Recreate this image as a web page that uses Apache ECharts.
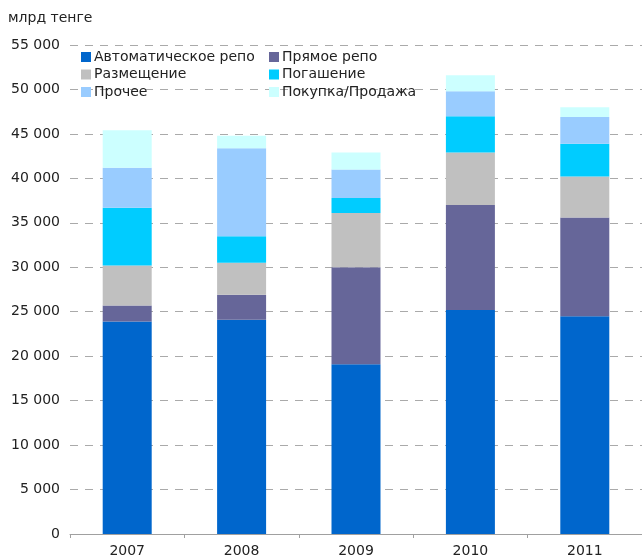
<!DOCTYPE html>
<html><head><meta charset="utf-8">
<script src="https://cdn.jsdelivr.net/npm/echarts@6/dist/echarts.min.js"></script>
<style>html,body{margin:0;padding:0;background:#fff}#c{width:642px;height:560px}</style>
</head><body><div id="c"></div>
<script>
const categories = ['2007','2008','2009','2010','2011'];
const seriesNames = ['Автоматическое репо','Прямое репо','Размещение','Погашение','Прочее','Покупка/Продажа'];
const avtoRepo   = [23900, 24100, 19100, 25200, 24500];
const pryamoeRepo= [1800, 2800, 10900, 11800, 11100];
const razmeschenie=[4500, 3600, 6100, 5900, 4600];
const pogashenie = [6500, 3000, 1700, 4100, 3700];
const prochee    = [4500, 9900, 3200, 2800, 3000];
const pokupka    = [4200, 1400, 1900, 1800, 1100];
const yTicks = [0, 5000, 10000, 15000, 20000, 25000, 30000, 35000, 40000, 45000, 50000, 55000];

const values = [avtoRepo, pryamoeRepo, razmeschenie, pogashenie, prochee, pokupka];
const colors = ['#0066CC','#666699','#C0C0C0','#00CCFF','#99CCFF','#CCFFFF'];
const font = 'DejaVu Sans, Verdana, sans-serif';

const chart = echarts.init(document.getElementById('c'));
const legendBase = {
  orient: 'vertical', top: 45, itemWidth: 10, itemHeight: 10, itemGap: 3.5,
  icon: 'rect', textStyle: {fontFamily: font, fontSize: 14, color: '#222', lineHeight: 14, padding: [0,0,0,-2]},
  selectedMode: false
};
chart.setOption({
  animation: false,
  color: colors,
  title: {text: 'млрд тенге', left: 3, top: 6, textStyle: {fontFamily: font, fontSize: 14, fontWeight: 'normal', color: '#222'}},
  legend: [
    Object.assign({}, legendBase, {left: 76, data: [seriesNames[0], seriesNames[2], seriesNames[4]]}),
    Object.assign({}, legendBase, {left: 264, data: [seriesNames[1], seriesNames[3], seriesNames[5]]})
  ],
  grid: {left: 70, top: 45, bottom: 26, width: 580, containLabel: false},
  xAxis: {
    type: 'category', data: categories,
    axisLine: {lineStyle: {color: '#A0A0A0', width: 1}},
    axisTick: {show: true, length: 4, lineStyle: {color: '#A0A0A0'}},
    axisLabel: {fontFamily: font, fontSize: 14, color: '#222', margin: 10}
  },
  yAxis: {
    type: 'value', min: 0, max: 55000, interval: 5000,
    axisLine: {show: false}, axisTick: {show: false},
    splitLine: {lineStyle: {color: '#AAAAAA', type: [8, 7], width: 1}},
    axisLabel: {fontFamily: font, fontSize: 14, color: '#222', margin: 10,
      formatter: v => yTicks.includes(v) ? String(v).replace(/\B(?=(\d{3})+(?!\d))/g, ' ') : ''}
  },
  series: seriesNames.map((n, i) => ({
    name: n, type: 'bar', stack: 'total', data: values[i], barWidth: 49,
    itemStyle: {color: colors[i]}
  }))
});
</script></body></html>
